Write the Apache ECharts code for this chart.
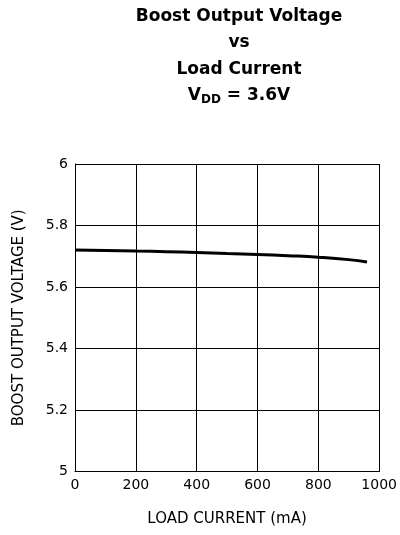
<!DOCTYPE html>
<html><head><meta charset="utf-8">
<script src="https://cdn.jsdelivr.net/npm/echarts@6/dist/echarts.min.js"></script>
<style>html,body{margin:0;padding:0;background:#fff}#c{width:400px;height:535px}</style>
</head><body><div id="c"></div>
<script>
var loadCurrent = [0, 100, 200, 300, 400, 500, 600, 700, 800, 900, 960];
var outputVoltage = [5.720, 5.719, 5.717, 5.715, 5.712, 5.709, 5.706, 5.702, 5.697, 5.689, 5.681];
var xTicks = [0, 200, 400, 600, 800, 1000];
var yTicks = [5, 5.2, 5.4, 5.6, 5.8, 6];

var chart = echarts.init(document.getElementById('c'), null, {renderer: 'canvas'});
var F = 'DejaVu Sans, Arial, sans-serif';
chart.setOption({
  animation: false,
  backgroundColor: '#fff',
  title: {
    text: '{a|Boost Output Voltage}\n{a|vs}\n{a|Load Current}\n{a|V}{s|DD}{a| = 3.6V}',
    left: 234, top: -2, textAlign: 'center',
    textStyle: {
      rich: {
        a: {fontFamily: F, fontWeight: 'bold', fontSize: 17, color: '#000', lineHeight: 26.5},
        s: {fontFamily: F, fontWeight: 'bold', fontSize: 12, color: '#000', lineHeight: 26.5, padding: [9, 0, 0, 0]}
      }
    }
  },
  grid: {left: 75, right: 19, top: 164, bottom: 63.5, containLabel: false},
  xAxis: {
    type: 'value', min: 0, max: 1000, interval: 200,
    name: 'LOAD CURRENT (mA)', nameLocation: 'middle', nameGap: 40,
    nameTextStyle: {fontFamily: F, fontSize: 15, color: '#000'},
    axisLine: {show: true, lineStyle: {color: '#000', width: 1}},
    axisTick: {show: false},
    axisLabel: {fontFamily: F, fontSize: 14, color: '#000', margin: 7,
      formatter: function (v) { return xTicks.indexOf(v) >= 0 ? String(v) : ''; }},
    splitLine: {show: true, lineStyle: {color: '#000', width: 1}}
  },
  yAxis: {
    type: 'value', min: 5, max: 6, interval: 0.2,
    name: 'BOOST OUTPUT VOLTAGE (V)', nameLocation: 'middle', nameGap: 48, nameRotate: 90,
    nameTextStyle: {fontFamily: F, fontSize: 15, color: '#000'},
    axisLine: {show: true, lineStyle: {color: '#000', width: 1}},
    axisTick: {show: false},
    axisLabel: {fontFamily: F, fontSize: 14, color: '#000', margin: 7,
      formatter: function (v) {
        for (var i = 0; i < yTicks.length; i++) if (Math.abs(yTicks[i] - v) < 1e-6) return String(yTicks[i]);
        return '';
      }},
    splitLine: {show: true, lineStyle: {color: '#000', width: 1}}
  },
  series: [{
    type: 'line',
    data: loadCurrent.map(function (x, i) { return [x, outputVoltage[i]]; }),
    showSymbol: false, smooth: true,
    lineStyle: {color: '#000', width: 3}
  }]
});
</script></body></html>
